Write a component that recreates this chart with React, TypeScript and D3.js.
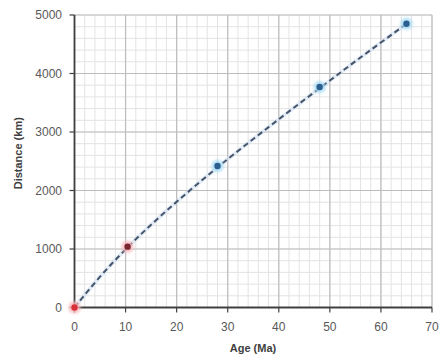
import React from "react";
import * as d3 from "d3";

const ages = [0, 10.4, 28, 48, 65];
const distances = [0, 1040, 2420, 3770, 4850];
const pointGroups = ["red", "red", "blue", "blue", "blue"];

const trendAges = [0, 5, 10, 15, 20, 25, 30, 35, 40, 45, 50, 55, 60, 65];
const trendDistances = [0, 540, 1000, 1420, 1810, 2180, 2540, 2880, 3220, 3550, 3880, 4210, 4530, 4850];

const xTicks = [0, 10, 20, 30, 40, 50, 60, 70];
const yTicks = [0, 1000, 2000, 3000, 4000, 5000];
const xMinor = d3.range(0, 70.01, 2);
const yMinor = d3.range(0, 5000.1, 200);

const W = 441;
const H = 358;

export default function App() {
  const x = d3.scaleLinear().domain([0, 70]).range([74.5, 432]);
  const y = d3.scaleLinear().domain([0, 5000]).range([307.5, 15]);

  const trend = trendAges.map((a, i) => [a, trendDistances[i]] as [number, number]);
  const line = d3
    .line<[number, number]>()
    .x((d) => x(d[0]))
    .y((d) => y(d[1]))
    .curve(d3.curveBasis);

  const font = "'Liberation Sans', Arial, sans-serif";
  const [x0, x1] = x.range();
  const [y0, y1] = y.range();

  return (
    <svg
      width={W}
      height={H}
      style={{ position: "absolute", left: 0, top: 0, background: "#fff" }}
      fontFamily={font}
    >
      <defs>
        <filter id="halo" x="-100%" y="-100%" width="300%" height="300%">
          <feGaussianBlur stdDeviation="1.6" />
        </filter>
      </defs>
      <rect x={0} y={0} width={W} height={H} fill="#fff" />
      {/* minor grid */}
      {xMinor.map((v) => (
        <line key={"xm" + v} x1={x(v)} x2={x(v)} y1={y0} y2={y1} stroke="#e3e3e3" strokeWidth={1} />
      ))}
      {yMinor.map((v) => (
        <line key={"ym" + v} x1={x0} x2={x1} y1={y(v)} y2={y(v)} stroke="#e3e3e3" strokeWidth={1} />
      ))}
      {/* major grid */}
      {xTicks.map((v) => (
        <line key={"xM" + v} x1={x(v)} x2={x(v)} y1={y0} y2={y1} stroke="#bdbdbd" strokeWidth={1.2} />
      ))}
      {yTicks.map((v) => (
        <line key={"yM" + v} x1={x0} x2={x1} y1={y(v)} y2={y(v)} stroke="#bdbdbd" strokeWidth={1.2} />
      ))}
      {/* axes */}
      <line x1={x0} x2={x0} y1={y0} y2={y1} stroke="#404040" strokeWidth={1.8} />
      <line x1={x0} x2={x1} y1={y0} y2={y0} stroke="#404040" strokeWidth={1.8} />
      {yTicks.map((v) => (
        <g key={"yt" + v}>
          <line x1={x0 - 5} x2={x0} y1={y(v)} y2={y(v)} stroke="#404040" strokeWidth={1.2} />
          <text x={62} y={y(v)} dy="0.35em" textAnchor="end" fontSize={12} fill="#595959">
            {v}
          </text>
        </g>
      ))}
      {xTicks.map((v) => (
        <g key={"xt" + v}>
          <line x1={x(v)} x2={x(v)} y1={y0} y2={y0 + 5} stroke="#404040" strokeWidth={1.2} />
          <text x={x(v)} y={331} textAnchor="middle" fontSize={12} fill="#595959">
            {v}
          </text>
        </g>
      ))}
      {/* trend line */}
      <path d={line(trend) || ""} fill="none" stroke="#c9dcef" strokeWidth={4} opacity={0.5} />
      <path d={line(trend) || ""} fill="none" stroke="#44546a" strokeWidth={2} strokeDasharray="5.5 3.5" />
      {/* points */}
      {ages.map((a, i) => {
        const red = pointGroups[i] === "red";
        return (
          <g key={"p" + i}>
            <circle
              cx={x(a)}
              cy={y(distances[i])}
              r={6}
              fill={red ? "#f7b8bd" : "#a9dcf5"}
              filter="url(#halo)"
              opacity={0.9}
            />
            <circle
              cx={x(a)}
              cy={y(distances[i])}
              r={3.2}
              fill={i === 0 ? "#d9303a" : red ? "#7a2630" : "#2a5f8f"}
            />
          </g>
        );
      })}
      {/* axis titles */}
      <text x={253} y={352} textAnchor="middle" fontSize={11} fontWeight="bold" fill="#404040">
        Age (Ma)
      </text>
      <text
        transform={`translate(22,${(y0 + y1) / 2 - 8}) rotate(-90)`}
        textAnchor="middle"
        fontSize={11}
        fontWeight="bold"
        fill="#404040"
      >
        Distance (km)
      </text>
    </svg>
  );
}
